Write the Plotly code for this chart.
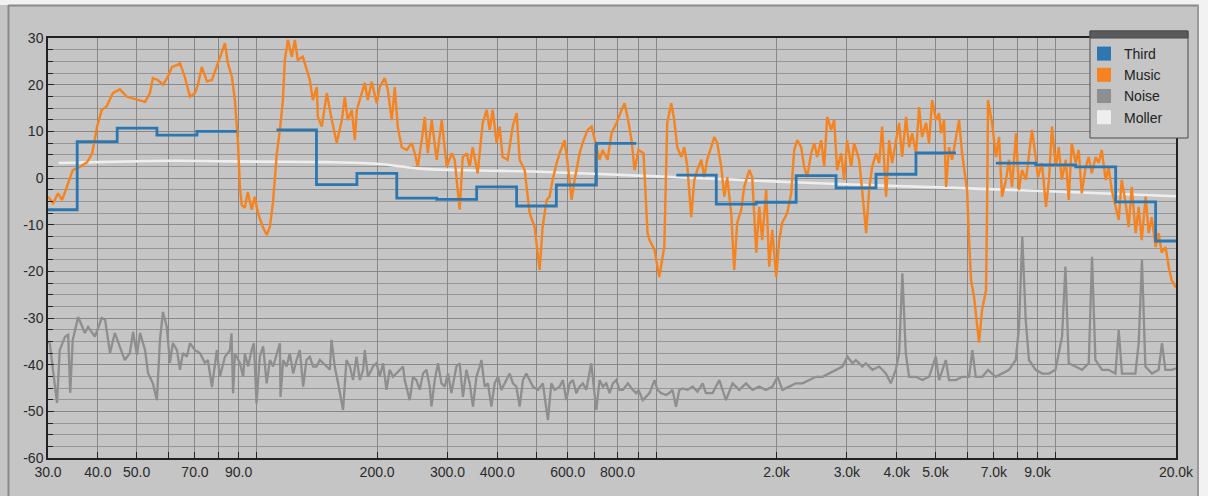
import plotly.graph_objects as go
import math

# ---------------- data ----------------
MUSIC_FREQ = [30.0, 30.9, 31.8, 32.5, 33.1, 33.7, 34.6, 36.1, 37.6, 38.7, 39.8, 40.9, 42.1, 43.6, 45.4, 47.3, 49.0, 51.0, 52.5, 54.0,
              54.9, 56.5, 58.2, 59.9, 61.3, 63.1, 64.2, 66.0, 68.0, 70.0, 71.2, 72.8, 75.0, 77.2, 78.5, 79.9, 81.7, 83.2, 84.6, 86.6,
              88.1, 89.6, 90.7, 91.7, 93.3, 94.9, 97.1, 98.8, 100.6, 103.5, 105.9, 107.8, 109.7, 112.2, 114.2, 116.2, 117.5, 119.6, 122.3, 124.5,
              126.6, 130.3, 133.4, 135.7, 138.1, 141.3, 142.1, 145.4, 149.7, 154.0, 158.5, 163.2, 166.0, 168.9, 172.8, 175.9, 177.9, 183.1, 186.3, 189.5,
              193.9, 199.6, 203.1, 209.0, 212.7, 217.6, 221.4, 225.3, 230.5, 237.3, 244.2, 248.5, 252.8, 258.7, 263.2, 267.8, 274.0, 282.0, 290.3, 298.7,
              307.5, 312.8, 321.9, 327.6, 335.2, 341.0, 347.0, 357.1, 367.6, 376.1, 382.7, 389.3, 398.4, 405.4, 412.4, 424.5, 436.9, 447.0, 454.8, 468.2,
              481.8, 495.9, 510.4, 519.3, 531.4, 540.6, 550.1, 562.9, 572.7, 589.4, 599.7, 613.7, 624.4, 642.6, 653.8, 672.9, 688.6, 708.7, 721.1, 733.6,
              755.0, 772.7, 795.2, 818.5, 832.7, 847.2, 867.0, 882.1, 902.6, 929.0, 950.6, 961.7, 989.8, 1017, 1047, 1065, 1090, 1109, 1128, 1155,
              1175, 1196, 1223, 1245, 1266, 1296, 1318, 1341, 1373, 1397, 1421, 1454, 1480, 1505, 1540, 1567, 1594, 1632, 1660, 1709,
              1738, 1779, 1810, 1841, 1884, 1917, 1951, 1996, 2031, 2066, 2127, 2176, 2214, 2253, 2305, 2345, 2386, 2442, 2485, 2528,
              2587, 2632, 2678, 2740, 2788, 2836, 2903, 2953, 3004, 3075, 3128, 3219, 3276, 3352, 3410, 3470, 3551, 3613, 3676, 3761,
              3827, 3893, 3984, 4054, 4124, 4220, 4294, 4369, 4470, 4548, 4628, 4735, 4818, 4902, 5016, 5104, 5163, 5253, 5314, 5406,
              5501, 5629, 5727, 5827, 5962, 5997, 6066, 6137, 6244, 6352, 6426, 6538, 6690, 6729, 6768, 6926, 7087, 7211, 7336, 7507,
              7638, 7771, 7952, 8091, 8232, 8423, 8570, 8720, 8923, 9026, 9237, 9452, 9617, 9785, 10000, 10175, 10352, 10593, 10778, 10966,
              11220, 11416, 11615, 11886, 12093, 12305, 12590, 12810, 13033, 13337, 13570, 13807, 14128, 14375, 14625, 14965, 15226, 15492, 15853, 16130,
              16411, 16793, 17086, 17384, 17788, 18098, 18414, 18843, 19172, 19506, 20000]
MUSIC_DB = [-4.0, -5.4, -3.3, -4.7, -3.0, -0.9, 1.7, 2.4, 3.4, 5.3, 11.0, 14.6, 15.4, 18.2, 19.0, 17.4, 17.0, 16.7, 16.3, 18.2,
            21.4, 21.0, 20.0, 21.7, 23.8, 24.2, 24.6, 21.7, 17.4, 18.2, 20.0, 23.8, 20.7, 21.0, 22.7, 24.9, 26.7, 28.9, 24.6, 21.7,
            16.7, 8.2, -1.9, -5.8, -6.4, -3.0, -6.8, -4.0, -7.5, -10.5, -12.2, -10.5, -5.4, 5.3, 10.3, 16.7, 25.3, 29.6, 26.0, 29.6,
            25.3, 26.0, 23.1, 21.0, 16.7, 19.5, 13.1, 11.0, 18.2, 12.4, 7.5, 12.4, 17.4, 12.4, 14.6, 8.1, 14.6, 18.2, 20.4, 16.7,
            20.6, 16.0, 19.5, 21.4, 18.9, 12.4, 19.5, 11.0, 6.6, 6.0, 7.5, 5.3, 2.4, 8.1, 13.1, 5.3, 12.4, 3.9, 12.4, 2.4,
            5.3, 3.9, -6.8, 4.5, 5.3, 2.4, 6.6, 1.0, 11.8, 14.6, 10.3, 14.6, 7.5, 11.0, 4.5, 3.9, 11.0, 13.9, 3.9, 1.7,
            -7.5, -10.5, -19.7, -10.5, -4.7, -4.0, -0.4, 3.2, 5.3, 8.1, 3.2, -4.7, -0.4, 5.3, 7.5, 10.3, 11.0, 6.6, 3.9, 6.0,
            3.9, 9.6, 11.8, 14.6, 16.0, 13.1, 8.1, 1.7, 6.0, 5.3, -11.8, -13.3, -15.4, -21.2, -14.8, 11.8, 16.0, 12.4, 6.6, 4.5,
            6.6, 2.4, -8.4, -0.4, 1.7, 3.9, 0.2, 3.9, 6.6, 8.8, 7.5, 2.4, -4.0, 0.2, -7.5, -19.7, -9.6, -6.8, -1.9, 1.7,
            0.2, -16.0, -6.2, -13.3, -2.6, -19.0, -11.1, -21.2, -13.3, -9.6, -7.5, -3.3, 6.0, 8.1, 6.6, 2.4, 0.2, 5.3, 7.5, 4.5,
            8.1, 2.4, 13.1, 10.3, 12.4, 1.7, 5.3, -0.4, 8.1, 2.4, 7.5, 3.9, -2.6, -11.8, -2.6, 2.4, 5.3, 3.2, 11.0, -4.0,
            8.1, 3.2, 8.1, 11.8, 4.5, 13.1, 6.6, 9.6, 5.3, 15.2, 8.8, 11.8, 7.5, 16.7, 12.4, 13.9, 9.6, 12.4, -1.9, 6.6,
            3.9, 8.8, 12.4, 5.3, -0.4, -2.6, -13.3, -21.9, -25.5, -31.0, -35.3, -28.3, -24.0, -7.5, 16.7, 11.8, 4.5, 8.8, -4.0, -0.4,
            3.9, -1.9, 9.6, -2.6, 1.7, -0.4, 5.3, 10.3, 3.9, 0.2, 3.2, -6.2, -0.4, 11.0, 2.4, 6.6, -0.4, 3.9, -4.7, 7.5,
            3.2, 6.0, -3.3, 2.4, 4.5, 1.0, 4.5, 3.2, 6.0, -0.4, 2.4, -2.6, -6.2, -9.0, -0.4, -5.4, -10.5, -1.9, -11.8, -6.2,
            -13.3, -4.0, -11.8, -8.4, -14.8, -11.8, -16.0, -14.8, -19.0, -21.9, -23.5]

NOISE_FREQ = [30.0, 30.3, 31.6, 32.1, 33.1, 33.7, 34.1, 34.6, 35.7, 37.1, 37.8, 39.3, 40.9, 41.7, 42.9, 44.1, 45.4, 46.7, 48.1, 49.0,
              50.1, 51.0, 52.5, 53.4, 54.9, 56.2, 57.2, 58.2, 59.5, 60.6, 61.6, 63.1, 64.2, 65.3, 66.8, 68.0, 70.0, 72.0, 74.1, 75.4,
              77.2, 79.4, 80.8, 83.2, 85.6, 86.4, 87.2, 88.1, 89.0, 90.7, 92.4, 93.3, 95.1, 97.0, 98.3, 99.8, 101.7, 103.7, 105.8, 107.8,
              109.8, 112.0, 114.2, 114.6, 116.4, 118.7, 120.9, 123.3, 125.7, 128.1, 130.6, 133.1, 135.7, 138.3, 141.0, 143.8, 146.5, 149.4, 152.3, 153.8,
              156.7, 159.7, 164.4, 167.6, 170.9, 174.1, 177.6, 181.0, 184.5, 186.3, 189.8, 195.4, 199.3, 203.1, 207.0, 211.1, 215.1, 219.3, 223.6, 227.9,
              232.3, 234.5, 241.4, 246.0, 250.9, 255.7, 260.6, 265.8, 270.9, 273.6, 278.8, 284.1, 289.8, 295.3, 301.0, 306.9, 315.9, 321.9, 328.1, 334.6,
              341.0, 347.6, 354.5, 361.3, 364.9, 371.8, 378.9, 386.4, 393.9, 401.4, 409.4, 421.3, 429.4, 437.6, 446.3, 454.8, 463.6, 472.7, 481.8, 491.1,
              505.4, 520.1, 535.3, 546.0, 556.4, 572.7, 583.7, 595.2, 606.6, 618.3, 630.5, 642.6, 654.9, 667.9, 687.4, 707.5, 721.1, 734.9, 749.4, 763.8,
              778.5, 793.9, 809.1, 824.6, 848.7, 873.3, 890.8, 902.6, 925.3, 943.6, 961.7, 989.8, 1007, 1027, 1057, 1078, 1098, 1120, 1142, 1163,
              1198, 1233, 1268, 1306, 1331, 1383, 1438, 1494, 1552, 1613, 1677, 1741, 1810, 1881, 1954, 2011, 2070, 2151, 2236, 2323,
              2414, 2509, 2606, 2709, 2815, 2924, 3010, 3098, 3159, 3281, 3346, 3476, 3613, 3755, 3864, 3977, 4054, 4131, 4213, 4294,
              4463, 4636, 4818, 5008, 5104, 5305, 5406, 5619, 5837, 6066, 6183, 6305, 6549, 6768, 7075, 7349, 7638, 7939, 8091, 8246,
              8409, 8570, 8908, 9253, 9617, 9983, 10275, 10370, 10575, 10778, 11202, 11635, 12093, 12326, 12569, 13056, 13570, 14104, 14375, 14651,
              15226, 15825, 16130, 16437, 16765, 17414, 18098, 18446, 18811, 19536, 20000]
NOISE_DB = [-35.0, -35.4, -48.2, -36.9, -34.0, -33.6, -46.0, -34.7, -29.8, -33.2, -31.9, -34.0, -30.0, -30.4, -37.5, -33.2, -36.2, -39.0, -37.5, -33.0,
            -37.9, -33.2, -36.9, -41.8, -44.0, -47.6, -34.7, -28.7, -31.9, -39.6, -35.4, -36.9, -41.1, -37.5, -38.3, -35.4, -36.9, -37.5, -39.6, -39.0,
            -44.8, -36.9, -42.6, -38.3, -36.9, -33.3, -46.1, -37.6, -38.3, -39.7, -42.6, -37.6, -40.4, -36.9, -35.4, -48.3, -38.3, -36.1, -44.0, -39.0,
            -40.4, -37.6, -35.4, -46.9, -39.0, -40.4, -37.6, -41.9, -39.0, -36.9, -44.7, -39.0, -38.3, -40.4, -40.4, -39.0, -39.7, -40.4, -41.1, -34.7,
            -40.4, -44.0, -49.7, -39.0, -40.4, -43.3, -38.3, -43.3, -41.1, -36.9, -42.6, -40.4, -39.7, -42.6, -39.7, -45.4, -41.1, -42.6, -41.9, -41.1,
            -40.4, -43.3, -47.6, -42.6, -43.3, -45.4, -41.9, -41.1, -44.7, -49.0, -43.3, -39.7, -44.0, -44.7, -41.9, -46.1, -40.4, -39.7, -46.9, -41.1,
            -44.0, -49.0, -42.6, -40.4, -39.0, -44.7, -44.0, -49.0, -44.0, -42.6, -45.4, -43.3, -41.9, -44.0, -44.7, -49.0, -43.3, -41.9, -43.3, -44.7,
            -45.4, -44.0, -51.9, -44.0, -45.4, -44.7, -43.3, -47.6, -44.0, -43.3, -46.1, -44.7, -44.0, -45.4, -39.7, -49.7, -43.3, -44.7, -44.0, -46.1,
            -44.0, -43.3, -45.4, -45.4, -44.0, -45.4, -46.1, -45.4, -47.6, -46.9, -46.1, -43.3, -45.4, -46.1, -46.5, -46.1, -45.4, -49.0, -45.4, -45.1,
            -45.4, -44.7, -45.8, -44.0, -46.1, -46.1, -43.3, -47.6, -44.0, -45.4, -44.0, -45.4, -44.7, -45.4, -44.7, -42.6, -45.4, -44.7, -44.0, -44.0,
            -43.3, -42.6, -42.6, -41.9, -41.1, -40.4, -38.3, -39.7, -39.0, -40.4, -39.7, -41.1, -40.4, -41.9, -44.0, -41.1, -37.6, -20.4, -37.6, -42.6,
            -42.6, -43.3, -42.6, -38.3, -43.3, -39.0, -43.3, -43.3, -42.6, -42.6, -36.9, -42.6, -42.6, -41.1, -42.6, -41.9, -41.1, -39.0, -31.9, -12.6,
            -30.4, -39.0, -41.1, -41.9, -41.9, -41.1, -35.4, -34.0, -19.0, -39.7, -40.4, -41.1, -39.7, -16.9, -39.0, -41.1, -41.1, -41.9, -32.6, -41.9,
            -41.9, -41.9, -35.4, -17.6, -40.4, -41.9, -41.1, -35.4, -41.1, -41.1, -40.8]

MOLLER_FREQ = [31.9, 40, 50, 63, 80, 100, 150, 203, 256, 361, 491, 963, 1613, 2870, 5110, 10000, 20000]
MOLLER_DB = [3.2, 3.4, 3.6, 3.7, 3.6, 3.5, 3.4, 3.0, 2.0, 1.6, 1.4, 0.4, -0.4, -1.3, -2.0, -2.9, -3.9]

BAND_EDGES = [30, 35.5, 44.7, 56.2, 70.8, 89.1, 112, 141, 178, 224, 282, 355, 447, 562, 708, 891, 1122, 1413, 1778, 2239,
              2818, 3548, 4467, 5623, 7079, 8913, 11220, 14125, 17783, 20000]
THIRD_DB = [-6.8, 7.8, 10.7, 9.2, 10.0, None, 10.3, -1.4, 1.0, -4.3, -4.6, -1.9, -6.0, -1.5, 7.4, None, 0.6, -5.6, -5.2, 0.5,
            -2.1, 0.8, 5.4, None, 3.2, 2.8, 2.4, -5.1, -13.5]

X_TICKS = [30, 40, 50, 60, 70, 80, 90, 100, 200, 300, 400, 500, 600, 700, 800, 900, 1000,
           2000, 3000, 4000, 5000, 6000, 7000, 8000, 9000, 10000, 20000]
X_LABELS = ['30.0', '40.0', '50.0', '', '70.0', '', '90.0', '', '200.0', '300.0', '400.0', '', '600.0', '', '800.0', '', '',
            '2.0k', '3.0k', '4.0k', '5.0k', '', '7.0k', '', '9.0k', '', '20.0k']
Y_TICKS = [-60, -50, -40, -30, -20, -10, 0, 10, 20, 30]
Y_LABELS = ['-60', '-50', '-40', '-30', '-20', '-10', '0', '10', '20', '30']

SERIES = ['Third', 'Music', 'Noise', 'Moller']
COLORS = {'Third': '#2c77b1', 'Music': '#f5831f', 'Noise': '#8e8e8e', 'Moller': '#eeeeee'}

# ---------------- layout geometry ----------------
W, H = 1208, 496
ML, MR, MT, MB = 48, 32, 38, 38
PW, PH = W - ML - MR, H - MT - MB
BG = '#c5c5c5'
FONT = 'Arial, Liberation Sans, sans-serif'


def px(x):
    return (x - ML) / PW


def py(y):
    return (H - MB - y) / PH


# step line for the third-octave bands
tx, ty = [], []
for i, lv in enumerate(THIRD_DB):
    if lv is None:
        tx.append(None)
        ty.append(None)
        continue
    tx += [BAND_EDGES[i], BAND_EDGES[i + 1]]
    ty += [lv, lv]

fig = go.Figure()
fig.add_trace(go.Scatter(x=NOISE_FREQ, y=NOISE_DB, mode='lines', name='Noise',
                         line=dict(color=COLORS['Noise'], width=2.3), showlegend=False))
fig.add_trace(go.Scatter(x=MOLLER_FREQ, y=MOLLER_DB, mode='lines', name='Moller', line_shape='spline',
                         line=dict(color=COLORS['Moller'], width=2.6), showlegend=False))
fig.add_trace(go.Scatter(x=MUSIC_FREQ, y=MUSIC_DB, mode='lines', name='Music',
                         line=dict(color=COLORS['Music'], width=2.4), showlegend=False))
fig.add_trace(go.Scatter(x=tx, y=ty, mode='lines', name='Third', connectgaps=False,
                         line=dict(color=COLORS['Third'], width=2.8), showlegend=False))

# legend entries with square swatches
for s in SERIES:
    fig.add_trace(go.Scatter(x=[None], y=[None], mode='markers', name=s,
                             marker=dict(symbol='square', size=14, color=COLORS[s]),
                             showlegend=True))

shapes = [
    # outer frame
    dict(type='rect', xref='paper', yref='paper', x0=px(0), x1=px(1199), y0=py(500), y1=py(5),
         fillcolor=BG, line=dict(width=0), layer='below'),
    dict(type='line', xref='paper', yref='paper', x0=px(8.5), x1=px(8.5), y0=py(500), y1=py(5),
         line=dict(color='#8a8a8a', width=2), layer='below'),
    dict(type='line', xref='paper', yref='paper', x0=px(8), x1=px(1199), y0=py(5.5), y1=py(5.5),
         line=dict(color='#8a8a8a', width=2), layer='below'),
    dict(type='line', xref='paper', yref='paper', x0=px(1198), x1=px(1198), y0=py(500), y1=py(5),
         line=dict(color='#9a9a9a', width=2), layer='below'),
    # legend box + header
    dict(type='rect', xref='paper', yref='paper', x0=px(1090), x1=px(1188), y0=py(138), y1=py(31),
         fillcolor=BG, line=dict(color='#4a4a4a', width=1), layer='above'),
    dict(type='rect', xref='paper', yref='paper', x0=px(1090), x1=px(1188), y0=py(38), y1=py(31),
         fillcolor='#5a5a5a', line=dict(color='#4a4a4a', width=1), layer='above'),
]

fig.update_layout(
    width=W, height=H, autosize=False,
    margin=dict(l=ML, r=MR, t=MT, b=MB, pad=0),
    paper_bgcolor='#f2f2f2', plot_bgcolor=BG,
    font=dict(family=FONT, size=14, color='#2a2a2a'),
    shapes=shapes,
    showlegend=True,
    legend=dict(x=px(1084), y=py(38), xanchor='left', yanchor='top',
                bgcolor='rgba(0,0,0,0)', borderwidth=0,
                font=dict(family=FONT, size=14, color='#222222'), tracegroupgap=0),
    xaxis=dict(type='log', range=[math.log10(30), math.log10(20000)],
               tickmode='array', tickvals=X_TICKS, ticktext=X_LABELS,
               ticks='inside', ticklen=6, tickwidth=1, tickcolor='#222222',
               showgrid=True, gridcolor='#888888', gridwidth=1,
               showline=True, linecolor='#222222', linewidth=1.5, mirror=True,
               zeroline=False, tickfont=dict(family=FONT, size=14, color='#2a2a2a')),
    yaxis=dict(range=[-60, 30], tickmode='array', tickvals=Y_TICKS, ticktext=Y_LABELS,
               ticks='inside', ticklen=6, tickwidth=1, tickcolor='#222222',
               showgrid=True, gridcolor='#888888', gridwidth=1,
               minor=dict(tickmode='linear', tick0=0, dtick=2.5, ticks='inside', ticklen=5,
                          tickcolor='#222222', showgrid=True, gridcolor='#969696', gridwidth=1),
               showline=True, linecolor='#222222', linewidth=1.5, mirror=True,
               zeroline=False, tickfont=dict(family=FONT, size=14, color='#2a2a2a')),
)

fig.write_html('out.html')
